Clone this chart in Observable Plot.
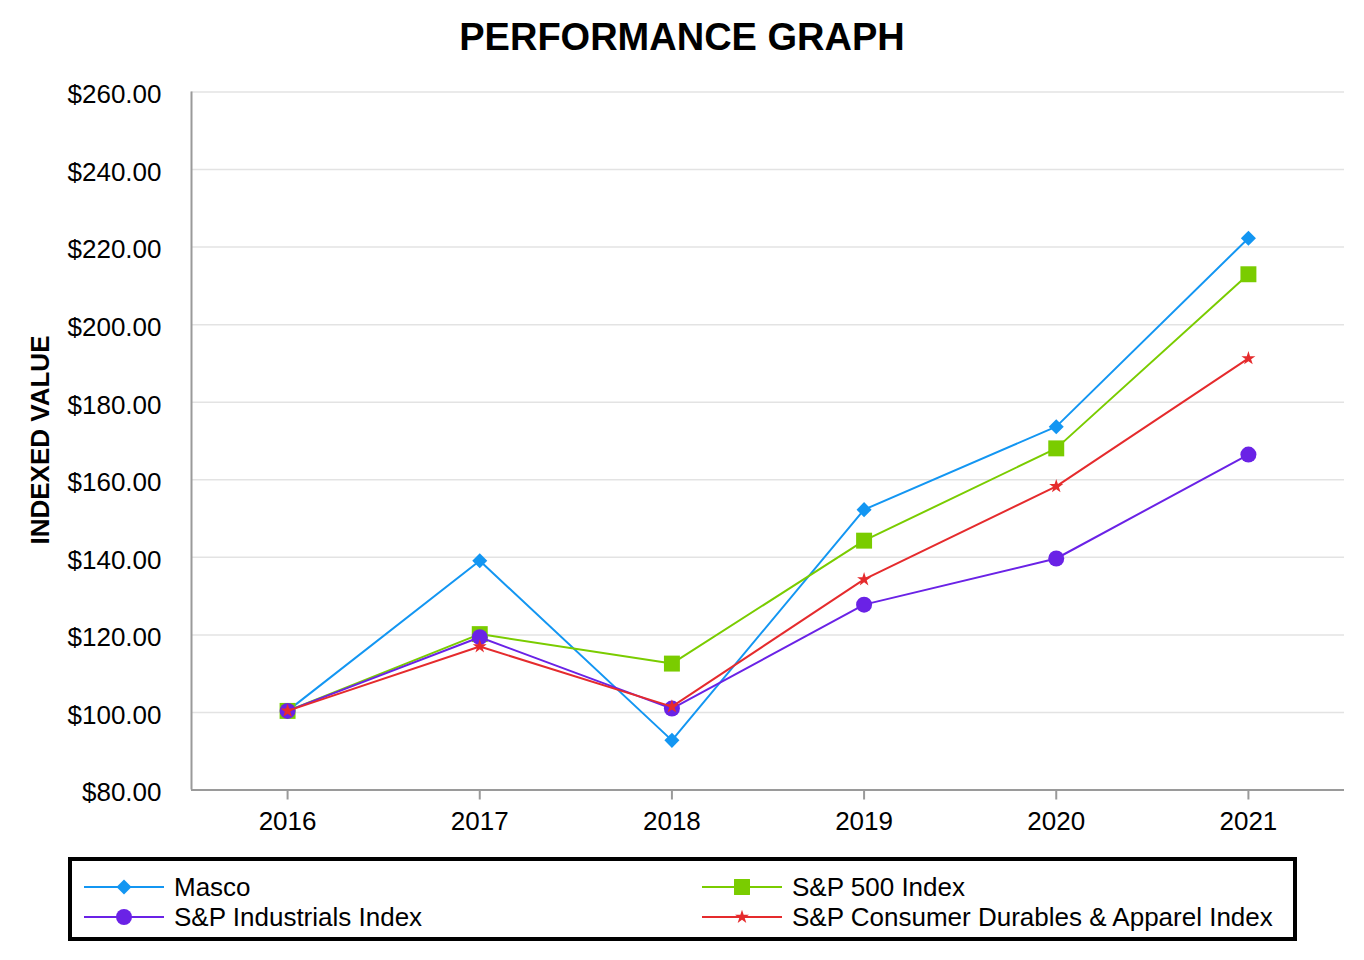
<!DOCTYPE html>
<html>
<head>
<meta charset="utf-8">
<script src="https://cdn.jsdelivr.net/npm/d3@7"></script>
<script src="https://cdn.jsdelivr.net/npm/@observablehq/plot@0.6"></script>
<style>
  body { margin: 0; background: #fff; font-family: "Liberation Sans", Arial, sans-serif; }
  #wrap { position: relative; width: 1364px; height: 960px; overflow: hidden; }
  #title { position: absolute; left: 0; top: 0; width: 1364px; height: 74px; line-height: 74px; text-align: center; font-weight: bold; font-size: 38px; color: #000; }
  #ylabel { position: absolute; left: 40px; top: 440px; transform: translate(-50%, -50%) rotate(-90deg); font-weight: bold; font-size: 26px; white-space: nowrap; color: #000; }
  #chart { position: absolute; left: 0; top: 0; }
  #legend { position: absolute; left: 0; top: 0; }
</style>
</head>
<body>
<div id="wrap">
  <div id="chart"></div>
  <div id="title">PERFORMANCE GRAPH</div>
  <div id="ylabel">INDEXED VALUE</div>
  <div id="legend"></div>
</div>
<script>
// ---- data ----
const years = [2016, 2017, 2018, 2019, 2020, 2021];
const masco = [100.4, 139.1, 92.8, 152.3, 173.7, 222.3];
const sp500 = [100.4, 120.2, 112.6, 144.3, 168.1, 213.0];
const spIndustrials = [100.4, 119.4, 101.0, 127.8, 139.7, 166.5];
const spConsumer = [100.4, 117.0, 101.5, 134.3, 158.3, 191.3];
const seriesNames = ["Masco", "S&P 500 Index", "S&P Industrials Index", "S&P Consumer Durables & Apparel Index"];
const yTicks = [80, 100, 120, 140, 160, 180, 200, 220, 240, 260];

const colors = ["#1396f2", "#7acc00", "#6a22e6", "#e52b2d"];
const symbols = ["square", "square", "circle", "star"];
const radii = [6, 9, 8, 4.4];
const rotations = [45, 0, 0, 0];
const values = [masco, sp500, spIndustrials, spConsumer];

const seriesData = values.map((vals, i) => years.map((yr, j) => ({year: yr, value: vals[j], name: seriesNames[i]})));

const marks = [
  Plot.gridY(yTicks.filter(t => t > 80), {stroke: "#e3e3e3", strokeOpacity: 1, strokeWidth: 1.5}),
  Plot.axisX(years, {tickSize: 10, tickPadding: 12, tickFormat: d => String(d), stroke: "#9a9a9a", strokeWidth: 2, fontSize: 26, fill: "#000", label: null}),
  Plot.axisY(yTicks, {tickSize: 0, tickPadding: 30, dy: 3, tickFormat: d => "$" + d.toFixed(2), fontSize: 26, fill: "#000", label: null}),
  Plot.ruleX([2015.5], {y1: 80, y2: 260, stroke: "#9a9a9a", strokeWidth: 2}),
  Plot.ruleY([80], {stroke: "#9a9a9a", strokeWidth: 2})
];
seriesData.forEach((d, i) => {
  marks.push(Plot.line(d, {x: "year", y: "value", stroke: colors[i], strokeWidth: 2}));
  marks.push(Plot.dot(d, {x: "year", y: "value", symbol: symbols[i], r: radii[i], fill: colors[i], stroke: "none", rotate: rotations[i]}));
});

const chart = Plot.plot({
  width: 1364,
  height: 850,
  marginLeft: 191,
  marginRight: 20,
  marginTop: 91.5,
  marginBottom: 60.5,
  style: {fontFamily: "'Liberation Sans', Arial, sans-serif", fontSize: "26px", background: "transparent", color: "#000"},
  x: {type: "linear", domain: [2015.5, 2021.5], axis: null},
  y: {domain: [80, 260], axis: null},
  marks
});
document.getElementById("chart").appendChild(chart);

// ---- legend ----
const lg = d3.select("#legend").append("svg").attr("width", 1364).attr("height", 960);
lg.append("rect").attr("x", 70).attr("y", 859).attr("width", 1225).attr("height", 80)
  .attr("fill", "none").attr("stroke", "#000").attr("stroke-width", 4);
const pos = [
  {x0: 84, y: 887}, {x0: 702, y: 887},
  {x0: 84, y: 917}, {x0: 702, y: 917}
];
const d3sym = {square: d3.symbolSquare, circle: d3.symbolCircle, star: d3.symbolStar};
seriesNames.forEach((name, i) => {
  const p = pos[i];
  const g = lg.append("g");
  g.append("line").attr("x1", p.x0).attr("x2", p.x0 + 80).attr("y1", p.y).attr("y2", p.y)
    .attr("stroke", colors[i]).attr("stroke-width", 2);
  g.append("path")
    .attr("d", d3.symbol(d3sym[symbols[i]], Math.PI * radii[i] * radii[i])())
    .attr("transform", `translate(${p.x0 + 40},${p.y}) rotate(${rotations[i]})`)
    .attr("fill", colors[i]);
  g.append("text").attr("x", p.x0 + 90).attr("y", p.y).attr("dy", "0.35em")
    .attr("font-family", "'Liberation Sans', Arial, sans-serif").attr("font-size", 26).attr("fill", "#000")
    .text(name);
});
</script>
</body>
</html>
